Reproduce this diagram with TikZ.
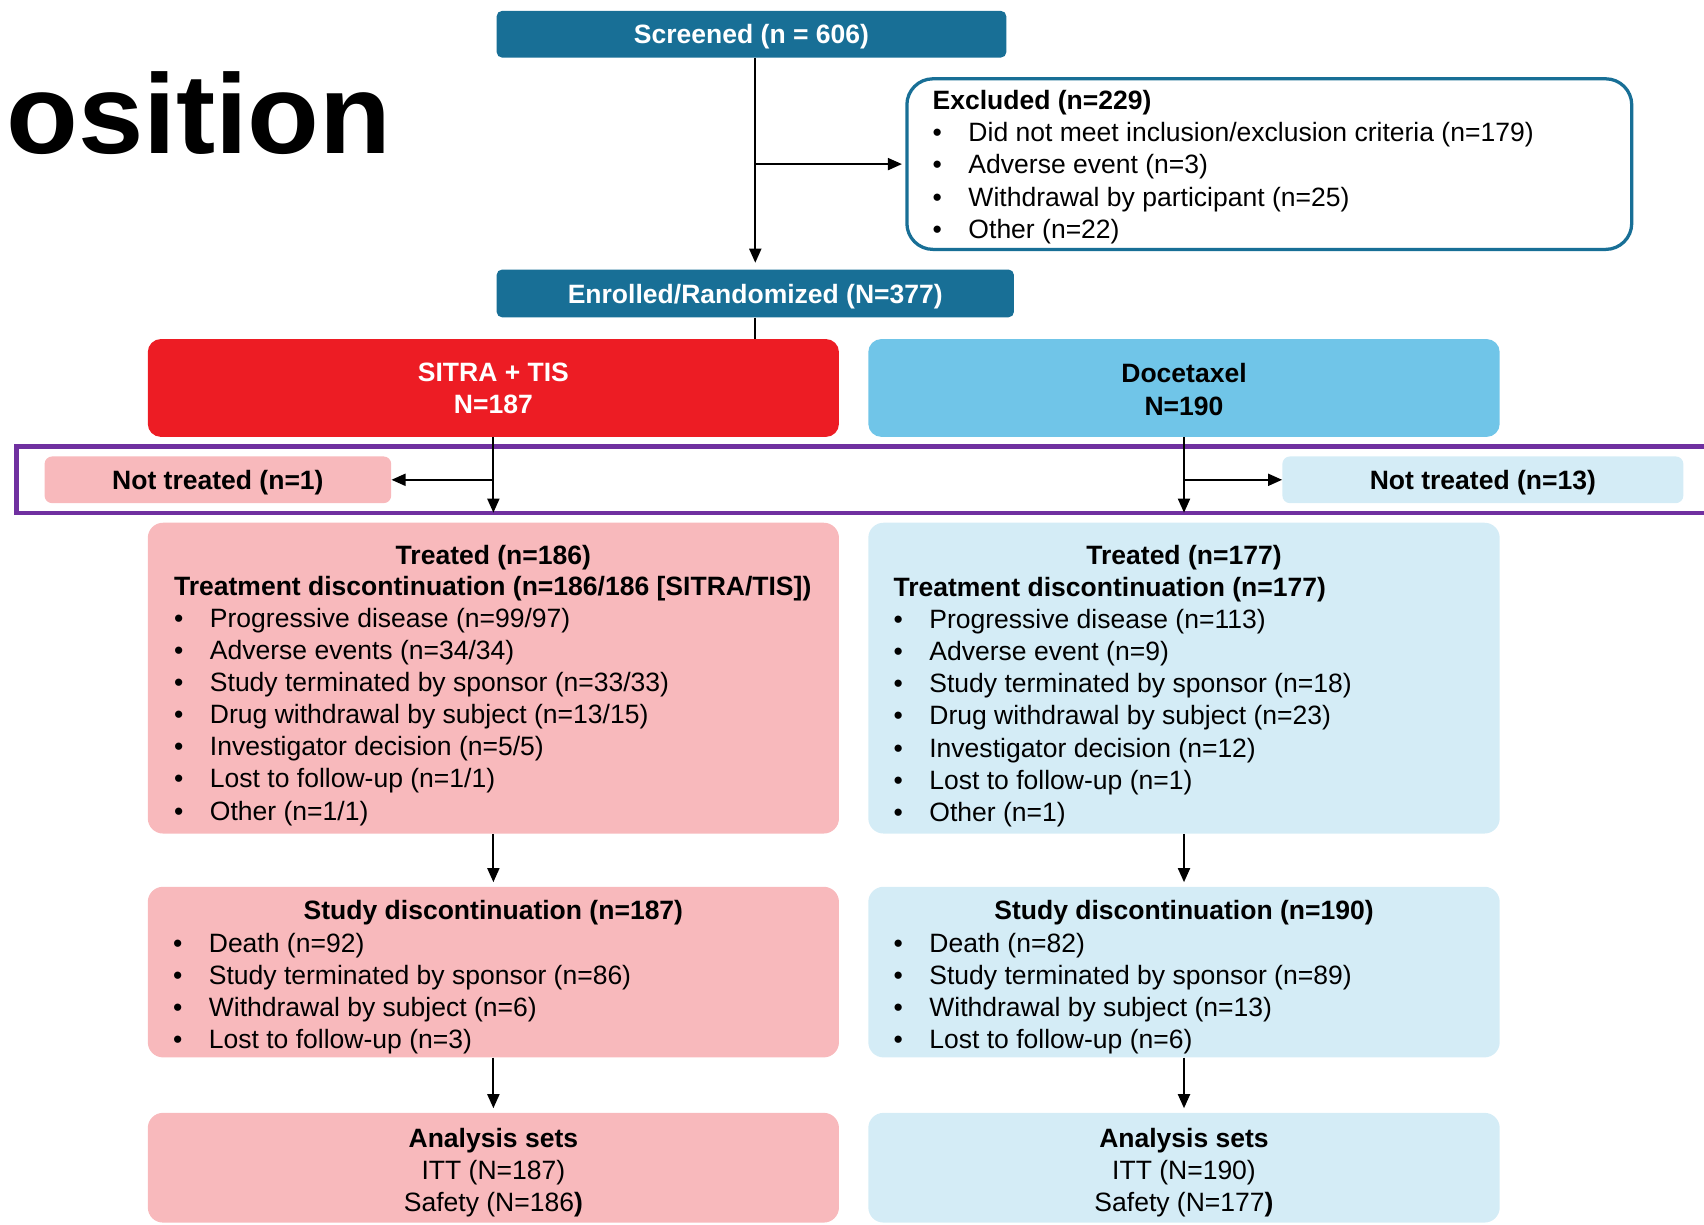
\documentclass[tikz,border=0pt]{standalone}
\usepackage{fontspec}
\setmainfont{Liberation Sans}
\usetikzlibrary{arrows.meta,positioning}

\definecolor{hdrteal}{HTML}{186F96}
\definecolor{sitrared}{HTML}{ED1C24}
\definecolor{docblue}{HTML}{70C5E8}
\definecolor{sitrapink}{HTML}{F8B9BC}
\definecolor{docpale}{HTML}{D4ECF6}
\definecolor{boxpurple}{HTML}{7030A0}

\newcommand{\bitem}[1]{\makebox[33pt][l]{\textbullet}#1}

\begin{document}
\begin{tikzpicture}[x=1pt,y=-1pt,
  txt/.style={inner sep=0pt,font=\fontsize{24.4}{29.5}\selectfont},
  hdr/.style={rectangle,rounded corners=5pt,fill=hdrteal,text=white,inner sep=0pt,text depth=0pt,font=\bfseries\fontsize{24.4}{29.5}\selectfont},
  excl/.style={rectangle,rounded corners=24pt,draw=hdrteal,line width=3pt,fill=white},
  arm/.style={rectangle,rounded corners=12pt,inner sep=0pt},
  sub/.style={rectangle,rounded corners=14pt,inner sep=0pt},
  flow/.style={-{Triangle[length=13pt,width=11pt]},line width=2pt},
  link/.style={line width=2pt}]

  \useasboundingbox (0,0) rectangle (1568,1127);

  \node[txt,anchor=base west,font=\bfseries\fontsize{104}{110}\selectfont] (heading) at (5.5,141) {\scalebox{1.04}[1]{osition}};

  % screening and enrolment
  \node[hdr,minimum width=469pt,minimum height=43pt] (screened) at (691.5,31.5) {Screened (n = 606)};
  \node[hdr,minimum width=476pt,minimum height=44pt] (enrolled) at (695,270) {Enrolled/Randomized (N=377)};
  \node[excl,minimum width=667pt,minimum height=157pt] (excluded) at (1168,151) {};
  \node[txt,align=left,anchor=north west] (exclist) at (858,83.2) {\textbf{Excluded (n=229)}\\
    \bitem{Did not meet inclusion/exclusion criteria (n=179)}\\
    \bitem{Adverse event (n=3)}\\
    \bitem{Withdrawal by participant (n=25)}\\
    \bitem{Other (n=22)}};

  % arms
  \node[arm,fill=sitrared,minimum width=636pt,minimum height=90pt] (sitra) at (454,357) {};
  \node[txt,align=center,anchor=north,text=white,font=\bfseries\fontsize{24.4}{29.5}\selectfont] (sitratxt) at (454,334.2) {SITRA + TIS\\N=187};
  \node[arm,fill=docblue,minimum width=581pt,minimum height=90pt] (docet) at (1089.5,357) {};
  \node[txt,align=center,anchor=north,font=\bfseries\fontsize{24.4}{29.5}\selectfont] (docettxt) at (1089.5,334.5) {Docetaxel\\N=190};

  \draw[boxpurple,line width=4.5pt] (15,410.5) rectangle (1590,472);

  \node[sub,rounded corners=7pt,fill=sitrapink,minimum width=319pt,minimum height=43pt,text depth=0pt,font=\bfseries\fontsize{24.4}{29.5}\selectfont] (nottA) at (200.5,441.5) {Not treated (n=1)};
  \node[sub,rounded corners=7pt,fill=docpale,minimum width=369pt,minimum height=43pt,text depth=0pt,font=\bfseries\fontsize{24.4}{29.5}\selectfont] (nottB) at (1364.5,441.5) {Not treated (n=13)};

  % treatment
  \node[sub,fill=sitrapink,minimum width=636pt,minimum height=286pt] (treatA) at (454,624) {};
  \node[txt,anchor=base,font=\bfseries\fontsize{24.4}{29.5}\selectfont] (treatAtitle) at (454,519) {Treated (n=186)};
  \node[txt,align=left,anchor=north west] (treatAlist) at (160,530.2) {\textbf{Treatment discontinuation (n=186/186 [SITRA/TIS])}\\
    \bitem{Progressive disease (n=99/97)}\\
    \bitem{Adverse events (n=34/34)}\\
    \bitem{Study terminated by sponsor (n=33/33)}\\
    \bitem{Drug withdrawal by subject (n=13/15)}\\
    \bitem{Investigator decision (n=5/5)}\\
    \bitem{Lost to follow-up (n=1/1)}\\
    \bitem{Other (n=1/1)}};
  \node[sub,fill=docpale,minimum width=581pt,minimum height=286pt] (treatB) at (1089.5,624) {};
  \node[txt,anchor=base,font=\bfseries\fontsize{24.4}{29.5}\selectfont] (treatBtitle) at (1089.5,519) {Treated (n=177)};
  \node[txt,align=left,anchor=north west] (treatBlist) at (822,531.2) {\textbf{Treatment discontinuation (n=177)}\\
    \bitem{Progressive disease (n=113)}\\
    \bitem{Adverse event (n=9)}\\
    \bitem{Study terminated by sponsor (n=18)}\\
    \bitem{Drug withdrawal by subject (n=23)}\\
    \bitem{Investigator decision (n=12)}\\
    \bitem{Lost to follow-up (n=1)}\\
    \bitem{Other (n=1)}};

  % study discontinuation
  \node[sub,fill=sitrapink,minimum width=636pt,minimum height=157pt] (studyA) at (454,894.5) {};
  \node[txt,anchor=base,font=\bfseries\fontsize{24.4}{29.5}\selectfont] (studyAtitle) at (454,846) {Study discontinuation (n=187)};
  \node[txt,align=left,anchor=north west] (studyAlist) at (159,858.2) {\bitem{Death (n=92)}\\
    \bitem{Study terminated by sponsor (n=86)}\\
    \bitem{Withdrawal by subject (n=6)}\\
    \bitem{Lost to follow-up (n=3)}};
  \node[sub,fill=docpale,minimum width=581pt,minimum height=157pt] (studyB) at (1089.5,894.5) {};
  \node[txt,anchor=base,font=\bfseries\fontsize{24.4}{29.5}\selectfont] (studyBtitle) at (1089.5,846) {Study discontinuation (n=190)};
  \node[txt,align=left,anchor=north west] (studyBlist) at (822,858.2) {\bitem{Death (n=82)}\\
    \bitem{Study terminated by sponsor (n=89)}\\
    \bitem{Withdrawal by subject (n=13)}\\
    \bitem{Lost to follow-up (n=6)}};

  % analysis sets
  \node[sub,fill=sitrapink,minimum width=636pt,minimum height=101pt] (anaA) at (454,1074.5) {};
  \node[txt,align=center,anchor=north] (anaAtxt) at (454,1038) {\textbf{Analysis sets}\\ITT (N=187)\\Safety (N=186\textbf{)}};
  \node[sub,fill=docpale,minimum width=581pt,minimum height=101pt] (anaB) at (1089.5,1074.5) {};
  \node[txt,align=center,anchor=north] (anaBtxt) at (1089.5,1038) {\textbf{Analysis sets}\\ITT (N=190)\\Safety (N=177\textbf{)}};

  % connectors
  \draw[flow,shorten >=6pt] (screened.south -| enrolled.north) -- (enrolled.north);
  \draw[flow,shorten >=3pt] (enrolled.north |- excluded.west) -- (excluded.west);
  \draw[link] (enrolled.south) -- (enrolled.south |- sitra.north);
  \draw[flow,shorten >=9pt] (sitra.south) -- (treatA.north);
  \draw[flow] (sitra.south |- nottA.east) -- (nottA.east);
  \draw[flow,shorten >=9pt] (docet.south) -- (treatB.north);
  \draw[flow] (docet.south |- nottB.west) -- (nottB.west);
  \draw[flow,shorten >=4pt] (treatA.south) -- (studyA.north);
  \draw[flow,shorten >=4pt] (treatB.south) -- (studyB.north);
  \draw[flow,shorten >=4pt] (studyA.south) -- (anaA.north);
  \draw[flow,shorten >=4pt] (studyB.south) -- (anaB.north);
\end{tikzpicture}
\end{document}
